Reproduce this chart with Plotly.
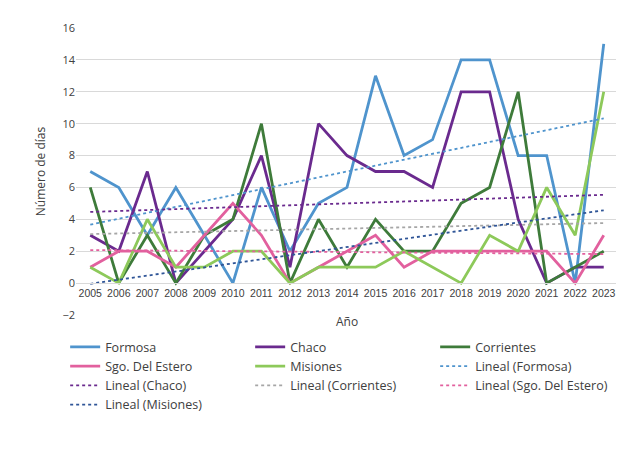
import numpy as np
import plotly.graph_objects as go

years = list(range(2005, 2024))
formosa = [7, 6, 3, 6, 3, 0, 6, 2, 5, 6, 13, 8, 9, 14, 14, 8, 8, 0, 15]
chaco = [3, 2, 7, 0, 2, 4, 8, 1, 10, 8, 7, 7, 6, 12, 12, 4, 0, 1, 1]
corrientes = [6, 0, 3, 0, 3, 4, 10, 0, 4, 1, 4, 2, 2, 5, 6, 12, 0, 1, 2]
sgo_estero = [1, 2, 2, 1, 3, 5, 3, 0, 1, 2, 3, 1, 2, 2, 2, 2, 2, 0, 3]
misiones = [1, 0, 4, 1, 1, 2, 2, 0, 1, 1, 1, 2, 1, 0, 3, 2, 6, 3, 12]

series = [
    ("Formosa", formosa, "#4F94CD", "#4F94CD"),
    ("Chaco", chaco, "#6A2A8E", "#6A2A8E"),
    ("Corrientes", corrientes, "#3E7B3A", "#A6A6A6"),
    ("Sgo. Del Estero", sgo_estero, "#E2609E", "#E2609E"),
    ("Misiones", misiones, "#8DC95A", "#2F5597"),
]

xcat = [str(y) for y in years]
fig = go.Figure()
for name, vals, col, _ in series:
    fig.add_trace(go.Scatter(x=xcat, y=vals, mode="lines", name=name,
                             line=dict(color=col, width=2.8)))
idx = np.arange(len(years))
for name, vals, _, tcol in series:
    k, b = np.polyfit(idx, vals, 1)
    fig.add_trace(go.Scatter(x=xcat, y=k * idx + b, mode="lines",
                             name=f"Lineal ({name})",
                             line=dict(color=tcol, width=1.8, dash="dot")))

fig.update_layout(
    width=624, height=457,
    margin=dict(l=68, r=14, t=14, b=150),
    paper_bgcolor="white", plot_bgcolor="white",
    font=dict(family="Open Sans, Calibri, sans-serif", size=11, color="#404040"),
    xaxis=dict(type="category", anchor="free", position=2 / 18, showgrid=False,
               showline=True, linecolor="#D9D9D9", ticks="",
               tickfont=dict(size=10.5, family="Liberation Sans Narrow, Arial Narrow, sans-serif"),
               range=[-0.5, 18.5]),
    yaxis=dict(range=[-2, 16], dtick=2, gridcolor="#D9D9D9", zeroline=False,
               tickfont=dict(size=11), domain=[0, 1],
               title=dict(text="Número de días", font=dict(size=12), standoff=14)),
    legend=dict(orientation="h", x=-0.02, xanchor="left", y=-0.06, yanchor="top",
                entrywidth=140, font=dict(size=12.5), tracegroupgap=2),
    annotations=[dict(text="Año", x=0.5, xref="paper", y=-0.06, yref="paper",
                      showarrow=False, font=dict(size=12))],
)
fig.write_html("out.html")
